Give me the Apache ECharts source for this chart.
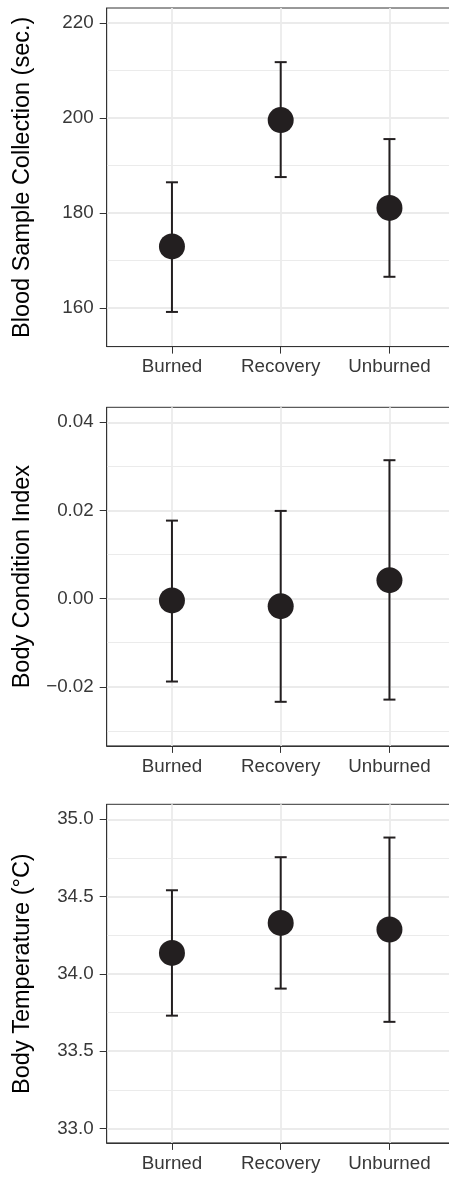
<!DOCTYPE html>
<html>
<head>
<meta charset="utf-8">
<script src="https://cdn.jsdelivr.net/npm/echarts@6/dist/echarts.min.js"></script>
<style>
html,body{margin:0;padding:0;background:#fff;}
#chart{width:449px;height:1178px;}
</style>
</head>
<body>
<div id="chart"></div>
<script>
const categories = ['Burned', 'Recovery', 'Unburned'];

const bloodMean = [173.0, 199.6, 181.1];
const bloodLow  = [159.2, 187.6, 166.6];
const bloodHigh = [186.5, 211.8, 195.6];

const bciMean = [-0.0004, -0.0017, 0.0042];
const bciLow  = [-0.0188, -0.0234, -0.0229];
const bciHigh = [0.0177, 0.0199, 0.0314];

const tempMean = [34.136, 34.33, 34.287];
const tempLow  = [33.73, 33.905, 33.69];
const tempHigh = [34.541, 34.755, 34.882];

const bloodTicks = [160, 180, 200, 220];
const bloodMinor = [170, 190, 210];
const bciTicks = [-0.02, 0, 0.02, 0.04];
const bciMinor = [-0.03, -0.01, 0.01, 0.03];
const tempTicks = [33.0, 33.5, 34.0, 34.5, 35.0];
const tempMinor = [33.25, 33.75, 34.25, 34.75];

const panels = [
  {title: 'Blood Sample Collection (sec.)', mean: bloodMean, low: bloodLow, high: bloodHigh,
   ticks: bloodTicks, minor: bloodMinor, min: 151.9, max: 223.2, fmt: v => String(Math.round(v)), top: 8},
  {title: 'Body Condition Index', mean: bciMean, low: bciLow, high: bciHigh,
   ticks: bciTicks, minor: bciMinor, min: -0.0334, max: 0.0434,
   fmt: v => (v < 0 ? '\u2212' : '') + Math.abs(v).toFixed(2), top: 407.3},
  {title: 'Body Temperature (\u00B0C)', mean: tempMean, low: tempLow, high: tempHigh,
   ticks: tempTicks, minor: tempMinor, min: 32.907, max: 35.097, fmt: v => v.toFixed(1), top: 804.3}
];

const FONT = 'Liberation Sans, Arial, Helvetica, sans-serif';
const INK = '#231f20';
const GRID_C = '#ebebeb';
const BORDER = '#333333';

const grid = [], xAxis = [], yAxis = [], series = [];
panels.forEach((p, i) => {
  grid.push({left: 106.7, top: p.top, width: 348, height: 338.6, show: true,
    borderColor: BORDER, borderWidth: 1, backgroundColor: 'transparent',
    containLabel: false, outerBoundsMode: 'none'});
  xAxis.push({type: 'value', gridIndex: i, min: 0.4, max: 3.6,
    axisLine: {show: true, onZero: false, lineStyle: {color: BORDER, width: 1}},
    axisTick: {show: true, length: 7, lineStyle: {color: BORDER, width: 1}, customValues: [1, 2, 3]},
    axisLabel: {show: true, customValues: [1, 2, 3], formatter: v => categories[Math.round(v) - 1],
      color: '#383838', fontSize: 18.8, fontFamily: FONT, margin: 11},
    splitLine: {show: true, lineStyle: {color: GRID_C, width: 1.8}}
  });
  yAxis.push({type: 'value', gridIndex: i, min: p.min, max: p.max,
    name: p.title, nameLocation: 'middle', nameRotate: 90, nameGap: 72,
    nameTextStyle: {color: '#000', fontSize: 23.5, fontFamily: FONT},
    axisLine: {show: true, onZero: false, lineStyle: {color: BORDER, width: 1}},
    axisTick: {show: true, length: 7, lineStyle: {color: BORDER, width: 1}, customValues: p.ticks},
    axisLabel: {show: true, customValues: p.ticks, formatter: p.fmt,
      color: '#383838', fontSize: 18.8, fontFamily: FONT, margin: 13},
    splitLine: {show: true, lineStyle: {color: GRID_C, width: 1.8}}
  });
  yAxis.push({type: 'value', gridIndex: i, min: p.min, max: p.max,
    axisLine: {show: false, onZero: false}, axisLabel: {show: false},
    axisTick: {show: false, customValues: p.minor},
    splitLine: {show: true, lineStyle: {color: GRID_C, width: 1}}
  });
  const ebData = categories.map((c, k) => [k + 1, p.low[k], p.high[k]]);
  series.push({type: 'custom', xAxisIndex: i, yAxisIndex: 2 * i, data: ebData,
    encode: {x: 0, y: [1, 2]}, z: 3,
    renderItem: (params, api) => {
      const x = api.value(0);
      const pl = api.coord([x, api.value(1)]);
      const ph = api.coord([x, api.value(2)]);
      const hw = 6;
      const st = {stroke: INK, lineWidth: 2};
      return {type: 'group', children: [
        {type: 'line', shape: {x1: pl[0], y1: pl[1], x2: ph[0], y2: ph[1]}, style: st},
        {type: 'line', shape: {x1: ph[0] - hw, y1: ph[1], x2: ph[0] + hw, y2: ph[1]}, style: st},
        {type: 'line', shape: {x1: pl[0] - hw, y1: pl[1], x2: pl[0] + hw, y2: pl[1]}, style: st}
      ]};
    }
  });
  series.push({type: 'scatter', xAxisIndex: i, yAxisIndex: 2 * i, z: 4,
    data: categories.map((c, k) => [k + 1, p.mean[k]]),
    symbol: 'circle', symbolSize: 26, itemStyle: {color: INK, opacity: 1}
  });
});

const chart = echarts.init(document.getElementById('chart'), null, {renderer: 'canvas'});
chart.setOption({animation: false, backgroundColor: '#fff', grid, xAxis, yAxis, series});
</script>
</body>
</html>
